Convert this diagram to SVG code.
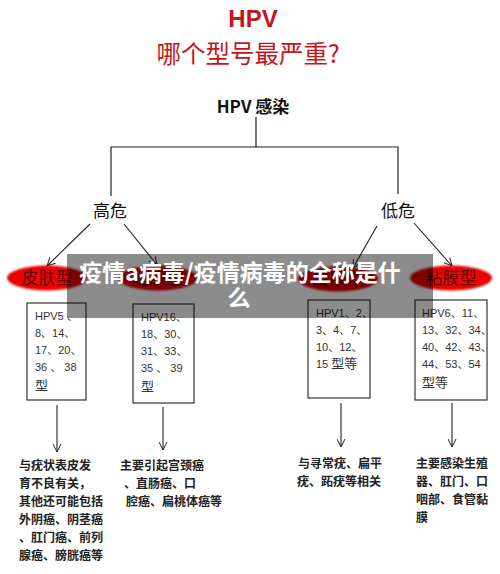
<svg xmlns="http://www.w3.org/2000/svg" width="500" height="574" viewBox="0 0 500 574">
<defs>
<marker id="arr" viewBox="0 0 10 10" refX="9" refY="5" markerWidth="9" markerHeight="9" orient="auto" markerUnits="userSpaceOnUse">
<path d="M0,0.5 L9,5 L0,9.5" fill="none" stroke="#222" stroke-width="1.1"/>
</marker>
<radialGradient id="red" cx="0.5" cy="0.5" r="0.5">
<stop offset="0" stop-color="#ff0000"/>
<stop offset="0.8" stop-color="#f00000"/>
<stop offset="1" stop-color="#d40000"/>
</radialGradient>
<filter id="soft" x="-10%" y="-20%" width="120%" height="140%"><feGaussianBlur stdDeviation="0.8"/></filter>
</defs>
<style>
.cjk{font-family:"Noto Sans CJK SC","Noto Sans",sans-serif}
.title{fill:#c4161c;font-family:"Noto Sans CJK SC",sans-serif}
.line{stroke:#222;stroke-width:1.2;fill:none}
.arrow{stroke:#222;stroke-width:1.1;fill:none;marker-end:url(#arr)}
.ell{fill:url(#red);filter:url(#soft)}
.etxt{fill:#5a0000;font-family:"Noto Sans CJK SC",serif;font-size:17px;text-anchor:middle}
.box{fill:#fff;stroke:#333;stroke-width:1.2}
.btxt{fill:#333;font-family:"Liberation Sans","Noto Sans CJK SC",sans-serif;font-size:11px}
.desc{fill:#222;font-family:"Noto Sans CJK SC",sans-serif;font-size:12px;font-weight:bold}
.risk{fill:#111;font-family:"Noto Sans CJK SC",serif;font-size:17px;text-anchor:middle}
</style>
<rect width="500" height="574" fill="#fff"/>
<g id="title">
<text class="title" x="253" y="27" font-family="Liberation Sans,sans-serif" font-size="24" font-weight="bold" text-anchor="middle" style="font-family:'Liberation Sans',sans-serif">HPV</text>
<text class="title" x="248" y="63" font-size="24.5" text-anchor="middle">哪个型号最严重?</text>
</g>
<g id="root">
<text x="253" y="113" font-size="17" font-weight="bold" text-anchor="middle" fill="#111" class="cjk">HPV 感染</text>
</g>
<g id="connectors">
<polyline class="line" points="256,117 256,147"/>
<polyline class="line" points="111,196 111,147 398,147 398,194"/>
<line class="arrow" x1="90" y1="224" x2="47" y2="266"/>
<line class="arrow" x1="124" y1="224" x2="157" y2="265"/>
<line class="arrow" x1="377" y1="226" x2="353" y2="268"/>
<line class="arrow" x1="414" y1="223" x2="452" y2="266"/>
<line class="arrow" x1="57" y1="405" x2="57" y2="452"/>
<line class="arrow" x1="163" y1="407" x2="163" y2="450"/>
<line class="arrow" x1="341" y1="403" x2="341" y2="447"/>
<line class="arrow" x1="452" y1="403" x2="452" y2="447"/>
</g>
<g id="high-risk"><text class="risk" x="110" y="217">高危</text></g>
<g id="low-risk"><text class="risk" x="398" y="217">低危</text></g>
<g id="skin-high">
<ellipse class="ell" cx="47" cy="278" rx="40" ry="12.5"/>
<text class="etxt" x="47" y="284">皮肤型</text>
</g>
<g id="mucosa-high">
<ellipse class="ell" cx="158" cy="278" rx="40" ry="12.5"/>
<text class="etxt" x="158" y="284">粘膜型</text>
</g>
<g id="skin-low">
<ellipse class="ell" cx="338" cy="279" rx="40" ry="12.5"/>
<text class="etxt" x="338" y="285">皮肤型</text>
</g>
<g id="mucosa-low">
<ellipse class="ell" cx="451" cy="278" rx="41" ry="12.5"/>
<text class="etxt" x="451" y="284">粘膜型</text>
</g>
<g id="box1">
<rect class="box" x="27" y="303" width="59" height="97"/>
<text class="btxt"><tspan x="35" y="320">HPV5 、</tspan><tspan x="35" y="337">8、14、</tspan><tspan x="35" y="354">17、20、</tspan><tspan x="35" y="371">36 、 38</tspan><tspan x="35" y="390" font-size="13">型</tspan></text>
</g>
<g id="box2">
<rect class="box" x="133" y="304" width="61" height="99"/>
<text class="btxt"><tspan x="141" y="321">HPV16、</tspan><tspan x="141" y="338">18、30、</tspan><tspan x="141" y="355">31、33、</tspan><tspan x="141" y="372">35 、 39</tspan><tspan x="141" y="391" font-size="13">型</tspan></text>
</g>
<g id="box3">
<rect class="box" x="308" y="300" width="62" height="98"/>
<text class="btxt"><tspan x="316" y="317">HPV1、2、</tspan><tspan x="316" y="334">3、4、7、</tspan><tspan x="316" y="351">10、12、</tspan><tspan x="316" y="368">15 <tspan font-size="13">型等</tspan></tspan></text>
</g>
<g id="box4">
<rect class="box" x="415" y="300" width="72" height="100"/>
<text class="btxt"><tspan x="422" y="317">HPV6、11、</tspan><tspan x="422" y="334">13、32、34、</tspan><tspan x="422" y="351">40、42、43、</tspan><tspan x="422" y="368">44、53、54</tspan><tspan x="422" y="387" font-size="13">型等</tspan></text>
</g>
<g id="desc1">
<text class="desc"><tspan x="19" y="470">与疣状表皮发</tspan><tspan x="19" y="488">育不良有关，</tspan><tspan x="19" y="506">其他还可能包括</tspan><tspan x="19" y="524">外阴癌、阴茎癌</tspan><tspan x="19" y="542">、肛门癌、前列</tspan><tspan x="19" y="560">腺癌、膀胱癌等</tspan></text>
</g>
<g id="desc2">
<text class="desc"><tspan x="120" y="470">主要引起宫颈癌</tspan><tspan x="124" y="488">、直肠癌、口</tspan><tspan x="126" y="506">腔癌、扁桃体癌等</tspan></text>
</g>
<g id="desc3">
<text class="desc"><tspan x="298" y="468">与寻常疣、扁平</tspan><tspan x="297" y="486">疣、跖疣等相关</tspan></text>
</g>
<g id="desc4">
<text class="desc"><tspan x="416" y="468">主要感染生殖</tspan><tspan x="416" y="486">器、肛门、口</tspan><tspan x="416" y="504">咽部、食管黏</tspan><tspan x="416" y="522">膜</tspan></text>
</g>
<g id="banner">
<rect x="67" y="254" width="366" height="64" fill="#000" fill-opacity="0.45"/>
<text x="240" y="281" fill="#fff" font-size="23" font-weight="bold" text-anchor="middle" class="cjk">疫情a病毒/疫情病毒的全称是什</text>
<text x="239" y="306" fill="#fff" font-size="23" font-weight="bold" text-anchor="middle" class="cjk">么</text>
</g>
</svg>
